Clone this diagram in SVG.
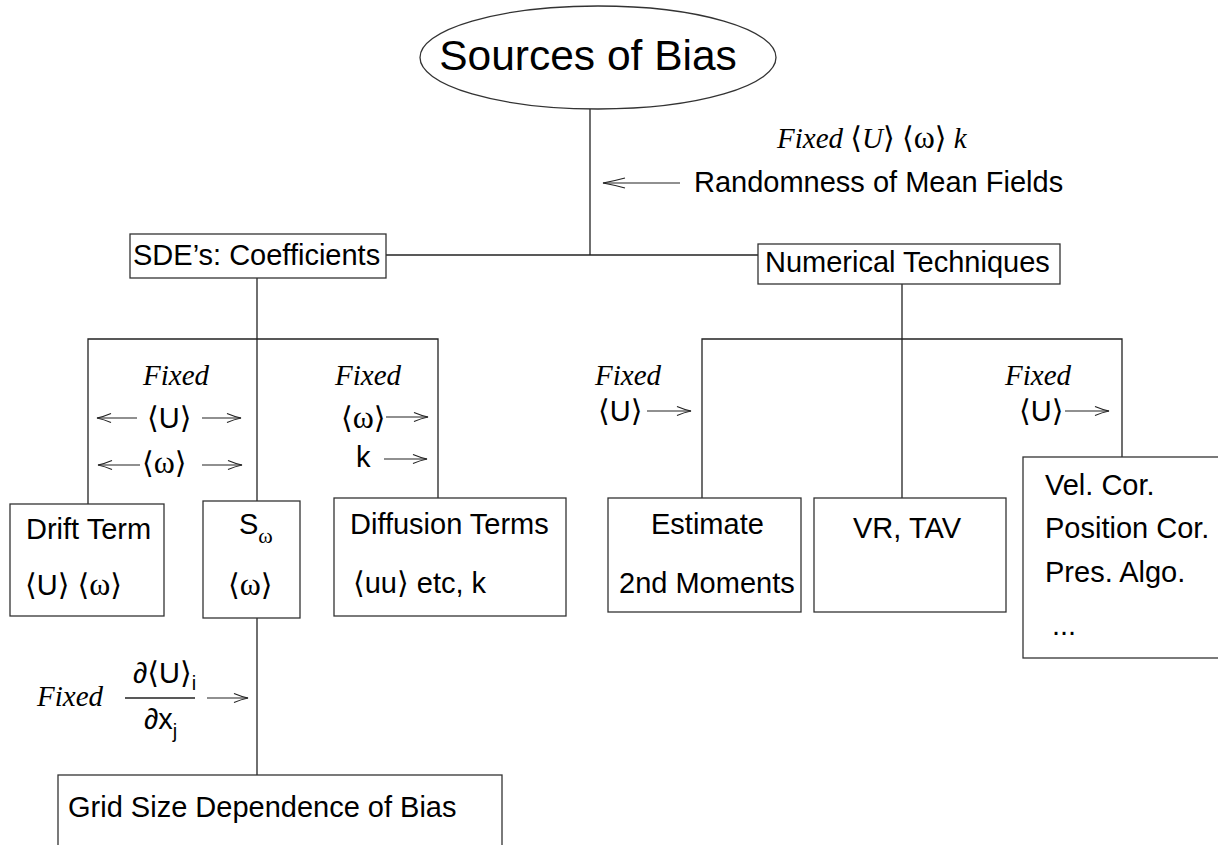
<svg xmlns="http://www.w3.org/2000/svg" width="1218" height="845" viewBox="0 0 1218 845">
<style>
.h{font-family:"Liberation Sans",Arial,sans-serif;font-size:29px;fill:#000}
.i{font-family:"Liberation Serif","Times New Roman",serif;font-style:italic;font-size:29px;fill:#000}
.ab{font-family:"DejaVu Sans","Liberation Sans",sans-serif;font-style:normal;font-size:30px}
.w{font-family:"Liberation Serif","Times New Roman",serif;font-style:normal;font-size:32px}
.sub{font-size:20px}
.box{fill:#fff;stroke:#333;stroke-width:1.3}
.ln{fill:none;stroke:#222;stroke-width:1.3}
.ar{fill:none;stroke:#222;stroke-width:1.1;marker-end:url(#ah)}
.ar2{fill:none;stroke:#222;stroke-width:1.1;marker-end:url(#ah2)}
</style>
<defs>
<marker id="ah" markerUnits="userSpaceOnUse" viewBox="-15 -6 16 12" refX="0" refY="0" markerWidth="16" markerHeight="12" orient="auto">
<path d="M-14,-4.5 Q-7,-1.5 0,0 Q-7,1.5 -14,4.5" fill="none" stroke="#222" stroke-width="1.2"/>
</marker>
<marker id="ah2" markerUnits="userSpaceOnUse" viewBox="-24 -7 25 14" refX="0" refY="0" markerWidth="25" markerHeight="14" orient="auto">
<path d="M-22,-5 Q-11,-2 0,0 Q-11,2 -22,5" fill="none" stroke="#222" stroke-width="1.2"/>
</marker>
</defs>
<rect width="1218" height="845" fill="#fff"/>

<g id="connectors">
<path class="ln" d="M590,109 V255"/>
<path class="ln" d="M386,255 H758"/>
<path class="ln" d="M257,278 V501"/>
<path class="ln" d="M88,504 V339 H438 V498"/>
<path class="ln" d="M257,618 V775"/>
<path class="ln" d="M902,284 V498"/>
<path class="ln" d="M702,498 V339 H1122 V457"/>
</g>

<g id="annotations">
<line class="ar2" x1="680" y1="183" x2="603" y2="183"/>
<text class="i" x="777" y="148">Fixed <tspan class="ab">⟨</tspan>U<tspan class="ab">⟩</tspan> <tspan class="ab">⟨</tspan><tspan class="w">ω</tspan><tspan class="ab">⟩</tspan> k</text>
<text class="h" x="694" y="192">Randomness of Mean Fields</text>

<text class="i" x="143" y="385">Fixed</text>
<line class="ar" x1="137" y1="418" x2="97" y2="418"/>
<text class="h" x="147" y="428"><tspan class="ab">⟨</tspan>U<tspan class="ab">⟩</tspan></text>
<line class="ar" x1="202" y1="418" x2="241" y2="418"/>
<line class="ar" x1="140" y1="465" x2="98" y2="465"/>
<text class="h" x="142" y="473"><tspan class="ab">⟨</tspan><tspan class="w">ω</tspan><tspan class="ab">⟩</tspan></text>
<line class="ar" x1="202" y1="465" x2="242" y2="465"/>

<text class="i" x="335" y="385">Fixed</text>
<text class="h" x="341" y="428"><tspan class="ab">⟨</tspan><tspan class="w">ω</tspan><tspan class="ab">⟩</tspan></text>
<line class="ar" x1="386" y1="417" x2="428" y2="417"/>
<text class="h" x="356" y="467">k</text>
<line class="ar" x1="384" y1="459" x2="427" y2="459"/>

<text class="i" x="595" y="385">Fixed</text>
<text class="h" x="598" y="421"><tspan class="ab">⟨</tspan>U<tspan class="ab">⟩</tspan></text>
<line class="ar" x1="647" y1="411" x2="691" y2="411"/>

<text class="i" x="1005" y="385">Fixed</text>
<text class="h" x="1019" y="421"><tspan class="ab">⟨</tspan>U<tspan class="ab">⟩</tspan></text>
<line class="ar" x1="1065" y1="411" x2="1109" y2="411"/>

<text class="i" x="37" y="706">Fixed</text>
<text class="h" x="133" y="683">∂<tspan class="ab">⟨</tspan>U<tspan class="ab">⟩</tspan><tspan class="sub" dy="7">i</tspan></text>
<line class="ln" x1="125" y1="698" x2="195" y2="698"/>
<text class="h" x="144" y="729">∂x<tspan class="sub" dy="9">j</tspan></text>
<line class="ar" x1="207" y1="698" x2="248" y2="698"/>
</g>

<g id="sources">
<ellipse cx="598" cy="57.5" rx="178" ry="51.5" class="box"/>
<text class="h" x="588" y="70" text-anchor="middle" style="font-size:42.5px">Sources of Bias</text>
</g>
<g id="sde">
<rect class="box" x="130" y="234" width="256" height="44"/>
<text class="h" x="133" y="265">SDE’s: Coefficients</text>
</g>
<g id="numerical">
<rect class="box" x="758" y="244" width="302" height="40"/>
<text class="h" x="765" y="272">Numerical Techniques</text>
</g>
<g id="drift">
<rect class="box" x="10" y="504" width="154" height="112"/>
<text class="h" x="26" y="539">Drift Term</text>
<text class="h" x="25" y="595"><tspan class="ab">⟨</tspan>U<tspan class="ab">⟩</tspan> <tspan class="ab">⟨</tspan><tspan class="w">ω</tspan><tspan class="ab">⟩</tspan></text>
</g>
<g id="source-term">
<rect class="box" x="203" y="501" width="97" height="117"/>
<text class="h" x="239" y="534">S<tspan class="w" style="font-size:22px" dy="9">ω</tspan></text>
<text class="h" x="228" y="595"><tspan class="ab">⟨</tspan><tspan class="w">ω</tspan><tspan class="ab">⟩</tspan></text>
</g>
<g id="diffusion">
<rect class="box" x="334" y="498" width="232" height="118"/>
<text class="h" x="350" y="534">Diffusion Terms</text>
<text class="h" x="353" y="593"><tspan class="ab">⟨</tspan>uu<tspan class="ab">⟩</tspan> etc, k</text>
</g>
<g id="estimate">
<rect class="box" x="608" y="498" width="193" height="114"/>
<text class="h" x="651" y="534">Estimate</text>
<text class="h" x="619" y="593">2nd Moments</text>
</g>
<g id="vr-tav">
<rect class="box" x="814" y="498" width="192" height="114"/>
<text class="h" x="853" y="538">VR, TAV</text>
</g>
<g id="corrections">
<rect class="box" x="1023" y="457" width="220" height="201"/>
<text class="h" x="1045" y="495">Vel. Cor.</text>
<text class="h" x="1045" y="538">Position Cor.</text>
<text class="h" x="1045" y="582">Pres. Algo.</text>
<text class="h" x="1052" y="635">...</text>
</g>
<g id="grid">
<rect class="box" x="58" y="775" width="444" height="90"/>
<text class="h" x="68" y="817">Grid Size Dependence of Bias</text>
</g>
</svg>
